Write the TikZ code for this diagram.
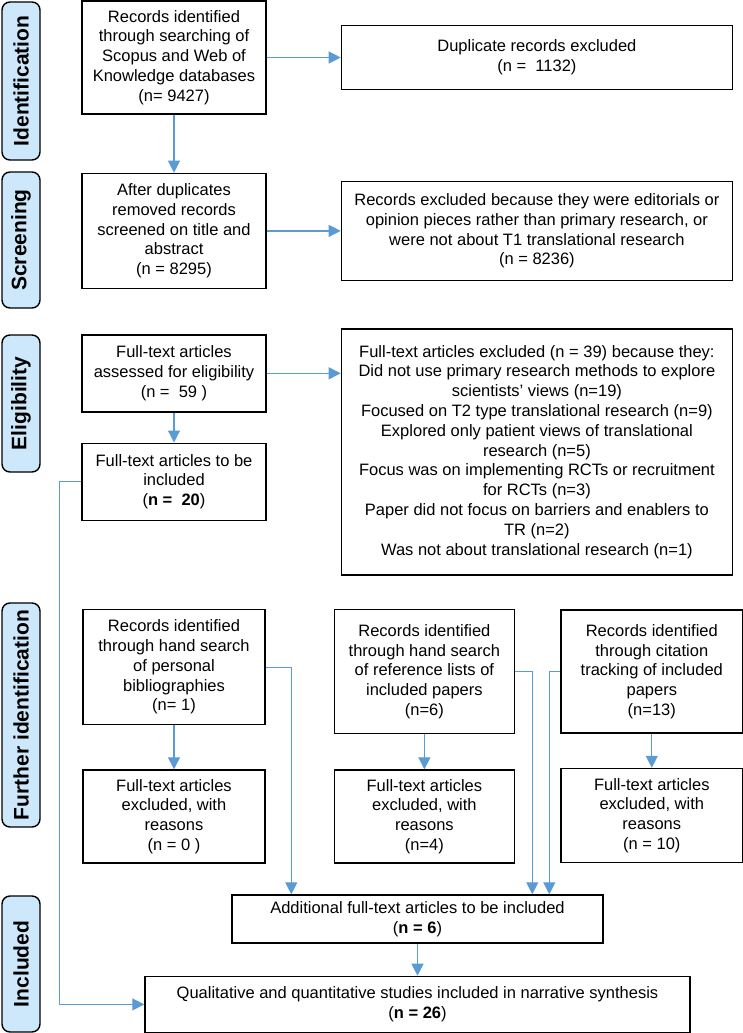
\documentclass[tikz,border=0pt]{standalone}
\usepackage{fontspec}
\setmainfont{Liberation Sans}
\usepackage{tikz}
\usetikzlibrary{positioning}
\usetikzlibrary{calc}
\usetikzlibrary{arrows.meta}
\definecolor{flowblue}{RGB}{91,155,213}
\definecolor{stagefill}{RGB}{205,232,250}

\begin{document}
\begin{tikzpicture}[
        x=1pt, y=-1pt,
        font=\fontsize{16.5}{19.8}\selectfont,
        box/.style={draw, line width=1.4pt, rectangle, inner sep=0pt, align=center},
        stage/.style={draw, line width=1.4pt, rounded corners=8pt, fill=stagefill, rotate=90,
            minimum height=38pt, inner sep=0pt, font=\fontsize{21}{25}\selectfont\bfseries},
        arrow/.style={flowblue, line width=1.2pt, -{Triangle[width=12pt,length=12pt]}},
    ]
        \useasboundingbox (0,0) rectangle (742,1033);

        % stage labels on the left
        \node[stage, minimum width=158pt] (identification) at (21,81) {Identification};
        \node[stage, minimum width=136pt] (screening) at (21,240) {Screening};
        \node[stage, minimum width=137pt] (eligibility) at (21,403.5) {Eligibility};
        \node[stage, minimum width=224pt] (further) at (21,715) {Further identification};
        \node[stage, minimum width=136pt] (included) at (21,964) {Included};

        % main column
        \node[box, minimum width=184pt, minimum height=113pt] (search) at (174,57.5)
            {Records identified\\through searching of\\Scopus and Web of\\Knowledge databases\\(n= 9427)};
        \node[box, minimum width=391pt, minimum height=64pt, right = 74pt of search] (dup)
            {Duplicate records excluded\\(n =~ 1132)};
        \node[box, minimum width=184pt, minimum height=115pt, below = 58pt of search] (screened)
            {After duplicates\\removed records\\screened on title and\\abstract\\(n = 8295)};
        \node[box, minimum width=391pt, minimum height=99pt, right = 74pt of screened] (recexcl)
            {Records excluded because they were editorials or\\opinion pieces rather than primary research, or\\were not about T1 translational research\\(n = 8236)};
        \node[box, minimum width=184pt, minimum height=77pt, below = 45pt of screened] (assessed)
            {Full-text articles\\assessed for eligibility\\(n =~ 59 )};
        \node[box, minimum width=391pt, minimum height=246pt, below = 47pt of recexcl] (ftexcl)
            {Full-text articles excluded (n = 39) because they:\\Did not use primary research methods to explore\\scientists' views (n=19)\\Focused on T2 type translational research (n=9)\\Explored only patient views of translational\\research (n=5)\\Focus was on implementing RCTs or recruitment\\for RCTs (n=3)\\Paper did not focus on barriers and enablers to\\TR (n=2)\\Was not about translational research (n=1)};
        \node[box, minimum width=184pt, minimum height=77pt, below = 30pt of assessed] (incl20)
            {Full-text articles to be\\included\\(\textbf{n =~ 20})};

        % further identification
        \node[box, minimum width=182pt, minimum height=115pt, below = 88pt of incl20] (personal)
            {Records identified\\through hand search\\of personal\\bibliographies\\(n= 1)};
        \node[box, minimum width=182pt, minimum height=93pt, below = 44pt of personal] (excl0)
            {Full-text articles\\excluded, with\\reasons\\(n = 0 )};
        \node[box, minimum width=180pt, minimum height=124pt, right = 68pt of personal.north east, anchor=north west] (reflists)
            {Records identified\\through hand search\\of reference lists of\\included papers\\(n=6)};
        \node[box, minimum width=180pt, minimum height=93pt, below = 35pt of reflists] (excl4)
            {Full-text articles\\excluded, with\\reasons\\(n=4)};
        \node[box, minimum width=182pt, minimum height=123pt, right = 45pt of reflists] (citation)
            {Records identified\\through citation\\tracking of included\\papers\\(n=13)};
        \node[box, minimum width=182pt, minimum height=94pt, below = 34pt of citation] (excl10)
            {Full-text articles\\excluded, with\\reasons\\(n = 10)};

        % included
        \node[box, minimum width=371pt, minimum height=48pt] (additional) at (417.5,919)
            {Additional full-text articles to be included\\(\textbf{n = 6})};
        \node[box, minimum width=545pt, minimum height=56pt, below = 32pt of additional] (narrative)
            {Qualitative and quantitative studies included in narrative synthesis\\(\textbf{n = 26})};

        \draw[arrow] (search) -- (dup);
        \draw[arrow] (search) -- (screened);
        \draw[arrow] (screened) -- (recexcl);
        \draw[arrow] (assessed.east) -- (ftexcl.west |- assessed.east);
        \draw[arrow] (assessed) -- (incl20);
        \draw[arrow] (incl20.west) -- ++(-22pt,0) |- (narrative.west);

        \draw[arrow] (personal) -- (excl0);
        \draw[arrow] (reflists) -- (excl4);
        \draw[arrow] (citation) -- (excl10);
        \draw[arrow] (personal.east) -| ([xshift=60pt]additional.north west);
        \draw[arrow] (reflists.east) -| ([xshift=301pt]additional.north west);
        \draw[arrow] (citation.west) -| ([xshift=318pt]additional.north west);
        \draw[arrow] (additional) -- (narrative);
    \end{tikzpicture}
\end{document}
